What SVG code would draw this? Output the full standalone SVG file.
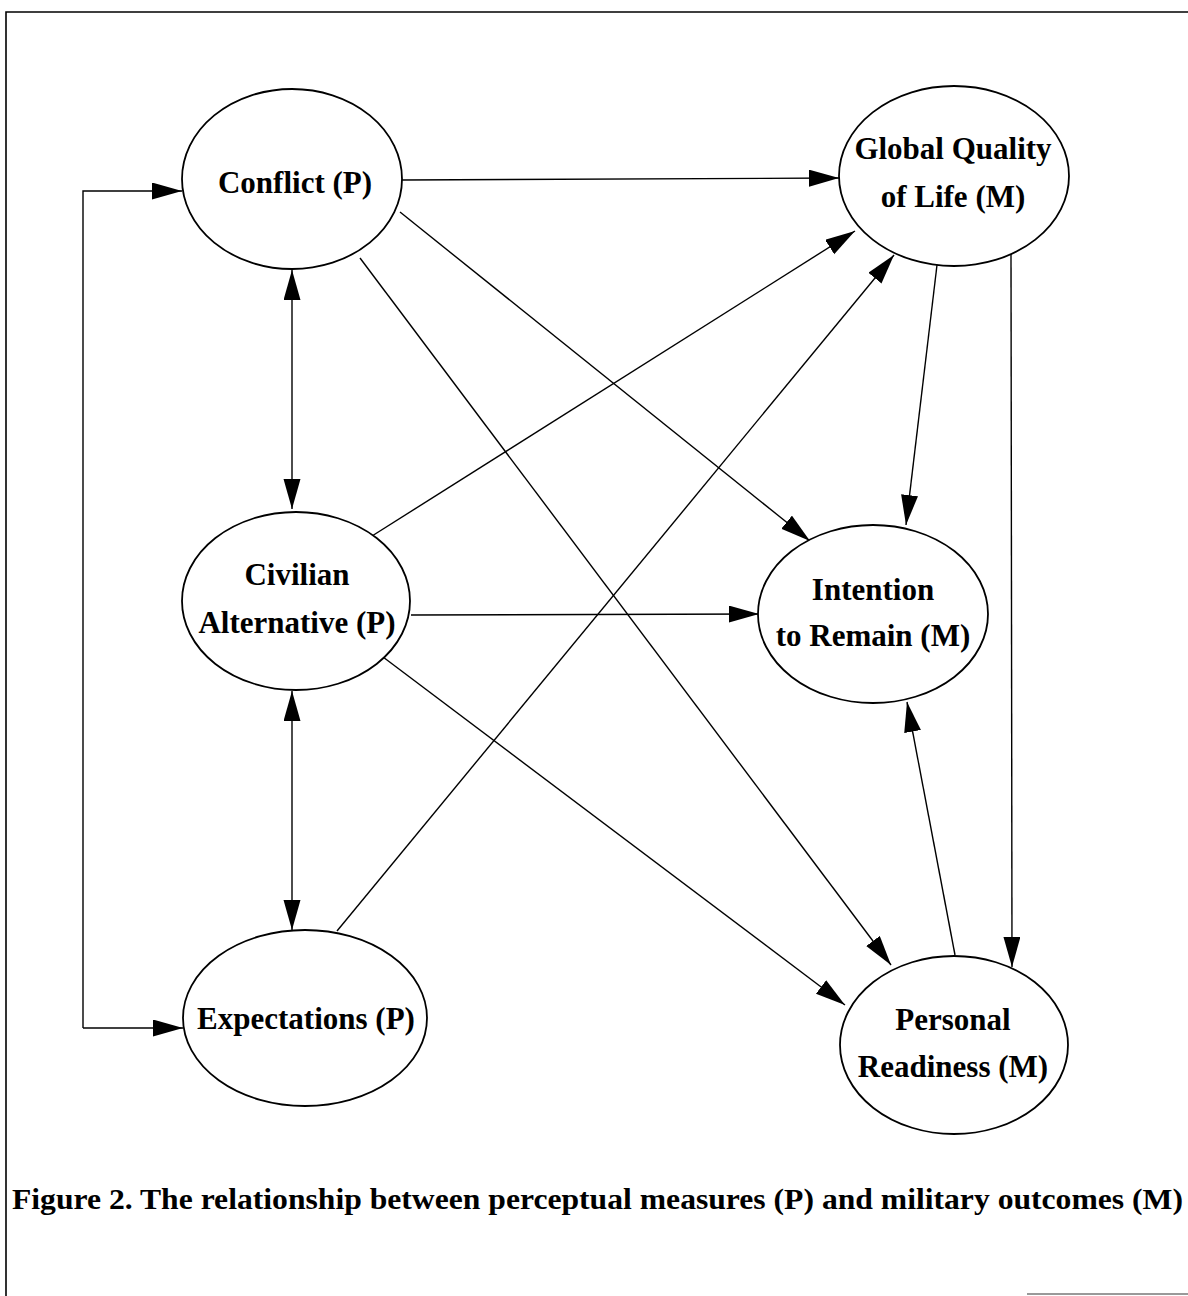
<svg xmlns="http://www.w3.org/2000/svg" width="1188" height="1296" viewBox="0 0 1188 1296">
  <style>
    .node ellipse { fill: #fff; stroke: #000; stroke-width: 1.8; }
    .node text, .caption { font-family: "Liberation Serif", "Times New Roman", serif; font-weight: bold; fill: #000; }
    .node text { font-size: 31px; text-anchor: middle; }
    .caption { font-size: 30px; }
    .edge { fill: none; stroke: #000; stroke-width: 1.4; marker-end: url(#head); }
    .both { marker-start: url(#head); }
    .frame { fill: none; stroke: #000; stroke-width: 1.6; }
  </style>
  <defs>
    <marker id="head" markerUnits="userSpaceOnUse" markerWidth="30" markerHeight="18" refX="30" refY="8.5" orient="auto-start-reverse">
      <path d="M0,0 L30,8.5 L0,17 z" fill="#000"/>
    </marker>
  </defs>

  <rect width="1188" height="1296" fill="#fff"/>

  <!-- page frame -->
  <path class="frame" d="M6,1296 V12 H1188"/>
  <line x1="1027" y1="1294" x2="1188" y2="1294" stroke="#777" stroke-width="1.5"/>

  <!-- connectors -->
  <g id="connectors">
    <path class="edge" d="M83,1028 V191 H182"/>
    <path class="edge" d="M83,1028 H183"/>
    <path class="edge both" d="M292,270 V509"/>
    <path class="edge both" d="M292,691 V930"/>
    <path class="edge" d="M402,180 L839,178"/>
    <path class="edge" d="M400,212 L810,541"/>
    <path class="edge" d="M360,258 L891,965"/>
    <path class="edge" d="M372,536 L855,231"/>
    <path class="edge" d="M337,931 L894,255"/>
    <path class="edge" d="M411,615 L759,614"/>
    <path class="edge" d="M383,657 L845,1005"/>
    <path class="edge" d="M937,265 L906,525"/>
    <path class="edge" d="M1011,254 L1012,967"/>
    <path class="edge" d="M955,955 L907,702"/>
  </g>

  <!-- nodes -->
  <g id="conflict" class="node">
    <ellipse cx="292" cy="179" rx="110" ry="90"/>
    <text x="295" y="193">Conflict (P)</text>
  </g>
  <g id="global-quality" class="node">
    <ellipse cx="954" cy="176" rx="115" ry="90"/>
    <text x="953" y="159">Global Quality</text>
    <text x="953" y="207">of Life (M)</text>
  </g>
  <g id="civilian-alternative" class="node">
    <ellipse cx="296" cy="601" rx="114" ry="89"/>
    <text x="297" y="585">Civilian</text>
    <text x="297" y="633">Alternative (P)</text>
  </g>
  <g id="intention" class="node">
    <ellipse cx="873" cy="614" rx="115" ry="89"/>
    <text x="873" y="600">Intention</text>
    <text x="873" y="646">to Remain (M)</text>
  </g>
  <g id="expectations" class="node">
    <ellipse cx="305" cy="1018" rx="122" ry="88"/>
    <text x="306" y="1029">Expectations (P)</text>
  </g>
  <g id="personal-readiness" class="node">
    <ellipse cx="954" cy="1045" rx="114" ry="89"/>
    <text x="953" y="1030">Personal</text>
    <text x="953" y="1077">Readiness (M)</text>
  </g>

  <text class="caption" x="12" y="1209" textLength="1171" lengthAdjust="spacingAndGlyphs">Figure 2. The relationship between perceptual measures (P) and military outcomes (M)</text>
</svg>
